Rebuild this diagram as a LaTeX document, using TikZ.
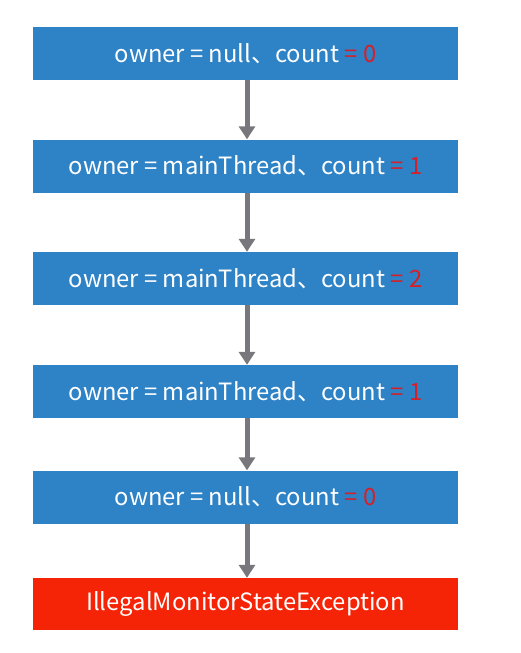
\documentclass[tikz,border=0pt]{standalone}
\usepackage{fontspec}
\setmainfont{Noto Sans CJK SC}
\usetikzlibrary{arrows.meta}
\definecolor{boxblue}{RGB}{46,130,198}
\definecolor{boxred}{RGB}{246,36,6}
\definecolor{numred}{RGB}{214,32,40}
\definecolor{arrgray}{RGB}{120,120,124}
\begin{document}
\begin{tikzpicture}[x=1pt,y=-1pt,
  state/.style={fill=boxblue,text=white,minimum width=425pt,minimum height=53pt,inner sep=0pt,font=\fontsize{23.8}{26}\selectfont},
  errbox/.style={fill=boxred,text=white,minimum width=425pt,minimum height=52pt,inner sep=0pt,font=\fontsize{23.8}{26}\selectfont},
  flow/.style={draw=arrgray,line width=5pt,-{Triangle[width=16pt,length=13pt]}}]
\useasboundingbox (0,0) rectangle (520,653);
\node[state] (s1) at (245.5,53.5) {owner = null、count \textcolor{numred}{= 0}};
\node[state] (s2) at (245.5,166) {owner = mainThread、count \textcolor{numred}{= 1}};
\node[state] (s3) at (245.5,278.5) {owner = mainThread、count \textcolor{numred}{= 2}};
\node[state] (s4) at (245.5,391.5) {owner = mainThread、count \textcolor{numred}{= 1}};
\node[state] (s5) at (245.5,497) {owner = null、count \textcolor{numred}{= 0}};
\node[errbox] (e) at (245.5,604) {IllegalMonitorStateException};
\foreach \a/\b in {s1/s2,s2/s3,s3/s4,s4/s5,s5/e}
  \draw[flow] ([xshift=1.5pt]\a.south) -- ([xshift=1.5pt]\b.north);
\end{tikzpicture}
\end{document}
